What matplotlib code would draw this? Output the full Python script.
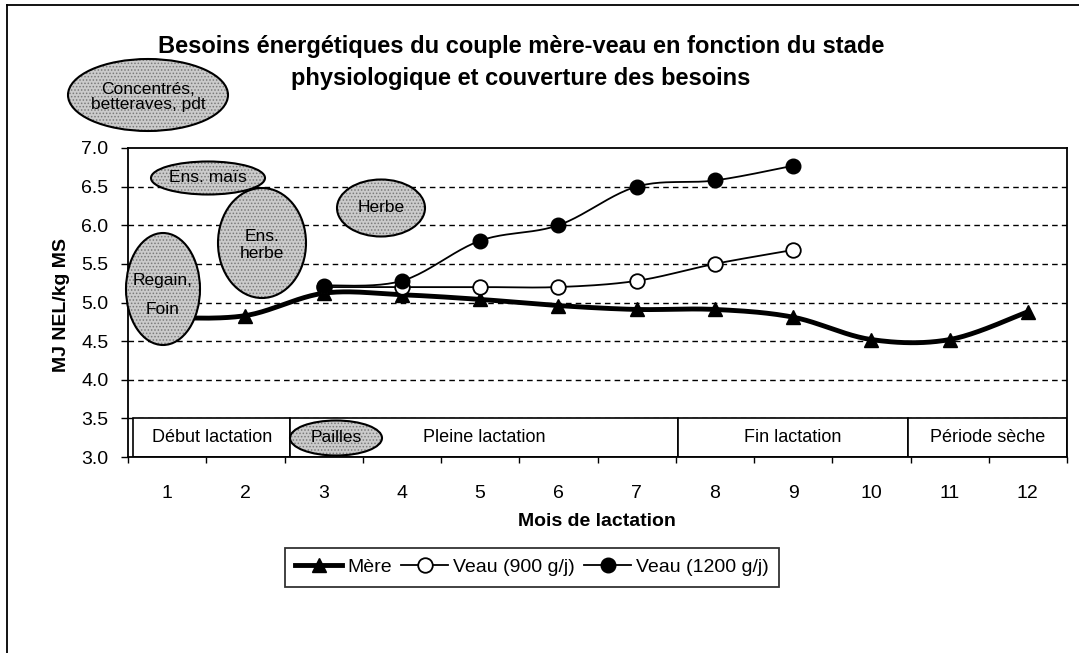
import numpy as np
import matplotlib
matplotlib.use("Agg")
import matplotlib.pyplot as plt
from matplotlib.patches import Ellipse, Rectangle
from matplotlib.lines import Line2D
from matplotlib.transforms import Affine2D

plt.rcParams['font.family'] = ['Liberation Sans', 'DejaVu Sans']
plt.rcParams['hatch.linewidth'] = 0.7

# données
mois = [1, 2, 3, 4, 5, 6, 7, 8, 9, 10, 11, 12]
mere = [4.80, 4.83, 5.12, 5.10, 5.04, 4.96, 4.91, 4.91, 4.81, 4.52, 4.52, 4.88]
mois_veau = [3, 4, 5, 6, 7, 8, 9]
veau_900 = [5.20, 5.20, 5.20, 5.20, 5.28, 5.50, 5.68]
veau_1200 = [5.22, 5.28, 5.80, 6.00, 6.50, 6.58, 6.77]

periodes = ['Début lactation', 'Pleine lactation', 'Fin lactation', 'Période sèche']
bornes = [0.57, 2.57, 7.53, 10.47, 12.5]

aliments = ['Concentrés,\nbetteraves, pdt', 'Ens. maïs', 'Ens.\nherbe',
            'Regain,\n\nFoin', 'Herbe', 'Pailles']

W, H = 1079, 653


# courbe lissée façon Excel (Bezier / Catmull-Rom)
def lisse(x, y, n=25):
    p = np.column_stack([x, y]).astype(float)
    out = [p[0]]
    t = np.linspace(0, 1, n)[1:, None]
    for i in range(len(p) - 1):
        p0 = p[i - 1] if i > 0 else p[i]
        p1, p2 = p[i], p[i + 1]
        p3 = p[i + 2] if i + 2 < len(p) else p[i + 1]
        c1 = p1 + (p2 - p0) / 6
        c2 = p2 - (p3 - p1) / 6
        b = (1 - t)**3 * p1 + 3 * (1 - t)**2 * t * c1 + 3 * (1 - t) * t**2 * c2 + t**3 * p2
        out.extend(b)
    out = np.array(out)
    return out[:, 0], out[:, 1]


fig = plt.figure(figsize=(W / 100, H / 100), dpi=100)
ax = fig.add_axes([128 / W, 1 - 457 / H, 939 / W, 309 / H])

# pixel coords (origin top-left) -> figure
px = Affine2D().scale(1 / W, -1 / H).translate(0, 1) + fig.transFigure

ax.set_xlim(0.5, 12.5)
ax.set_ylim(3.0, 7.0)
ax.set_yticks(np.arange(3.0, 7.01, 0.5))
ax.set_yticklabels([f'{v:.1f}' for v in np.arange(3.0, 7.01, 0.5)], fontsize=14)
ax.set_xticks(mois)
ax.set_xticklabels([str(m) for m in mois], fontsize=14)
ax.set_xticks(np.arange(0.5, 12.6, 1), minor=True)
ax.tick_params(axis='x', which='major', length=0, pad=20)
ax.tick_params(axis='x', which='minor', length=4, width=1, direction='out')
ax.tick_params(axis='y', length=5, width=1, direction='out', pad=9)
for s in ax.spines.values():
    s.set_linewidth(1.3)
    s.set_color('black')

for v in np.arange(3.5, 6.51, 0.5):
    ax.axhline(v, color='black', lw=1, ls=(0, (4, 3)), zorder=1)

# bandes des périodes
for i, nom in enumerate(periodes):
    x0, x1 = bornes[i], bornes[i + 1]
    ax.add_patch(Rectangle((x0, 3.0), x1 - x0, 0.5, facecolor='white',
                           edgecolor='black', lw=1.2, zorder=2))
    ax.text((x0 + x1) / 2, 3.25, nom, ha='center', va='center', fontsize=13, zorder=3)

# séries
xs, ys = lisse(mois, mere)
ax.plot(xs, ys, color='black', lw=3.5, zorder=4, solid_capstyle='round')
ax.plot(mois, mere, ls='none', marker='^', ms=10.5, color='black', zorder=5)
xs, ys = lisse(mois_veau, veau_900)
ax.plot(xs, ys, color='black', lw=1.3, zorder=4)
ax.plot(mois_veau, veau_900, ls='none', marker='o', ms=10.5, mfc='white', mec='black',
        mew=1.3, zorder=5)
xs, ys = lisse(mois_veau, veau_1200)
ax.plot(xs, ys, color='black', lw=1.3, zorder=6)
ax.plot(mois_veau, veau_1200, ls='none', marker='o', ms=10.5, mfc='black', mec='black',
        zorder=7)

# ellipses des aliments (position en pixels: cx, cy, largeur, hauteur, y du texte, interligne)
geom = [(148, 95, 160, 72, 97, 1.0), (208, 178, 114, 33, 178, 1.0),
        (262, 243, 88, 110, 245, 1.2), (163, 289, 74, 112, 295, 0.92),
        (381, 208, 88, 57, 208, 1.0), (336, 438, 92, 35, 438, 1.0)]
for nom, (cx, cy, w, h, ty, ls) in zip(aliments, geom):
    e1 = Ellipse((cx, cy), w, h, transform=px, facecolor='#cbcbcb',
                 edgecolor='#7a7a7a', hatch='.....', lw=0, zorder=10)
    e2 = Ellipse((cx, cy), w, h, transform=px, fill=False, edgecolor='black',
                 lw=1.5, zorder=11)
    fig.add_artist(e1)
    fig.add_artist(e2)
    fig.text(cx, ty, nom, transform=px, ha='center', va='center', fontsize=12.5,
             linespacing=ls, zorder=12)

# titres
fig.text(521, 46, 'Besoins énergétiques du couple mère-veau en fonction du stade',
         transform=px, ha='center', va='center', fontsize=17, fontweight='bold')
fig.text(521, 79, 'physiologique et couverture des besoins',
         transform=px, ha='center', va='center', fontsize=17, fontweight='bold')
fig.text(62, 305, 'MJ NEL/kg MS', transform=px, ha='center', va='center',
         rotation=90, fontsize=14, fontweight='bold')
fig.text(597, 522, 'Mois de lactation', transform=px, ha='center', va='center',
         fontsize=14, fontweight='bold')

# légende
h1 = Line2D([], [], color='black', lw=3.5, marker='^', ms=10.5)
h2 = Line2D([], [], color='black', lw=1.3, marker='o', ms=10.5, mfc='white', mew=1.3)
h3 = Line2D([], [], color='black', lw=1.3, marker='o', ms=10.5, mfc='black')
leg = fig.legend([h1, h2, h3], ['Mère', 'Veau (900 g/j)', 'Veau (1200 g/j)'],
                 loc='center', bbox_to_anchor=(532 / W, 1 - 567 / H), ncol=3,
                 fontsize=14, frameon=True, fancybox=False, edgecolor='black',
                 handlelength=2.4, handletextpad=0.25, columnspacing=0.5,
                 borderpad=0.55, borderaxespad=0)
leg.get_frame().set_linewidth(1.3)

# cadre extérieur (gauche et haut)
fig.add_artist(Line2D([7 / W, 7 / W], [0, 1 - 5 / H], transform=fig.transFigure,
                      color='black', lw=1.3))
fig.add_artist(Line2D([7 / W, 1], [1 - 5 / H, 1 - 5 / H], transform=fig.transFigure,
                      color='black', lw=1.3))

fig.savefig('out.png', dpi=100)
